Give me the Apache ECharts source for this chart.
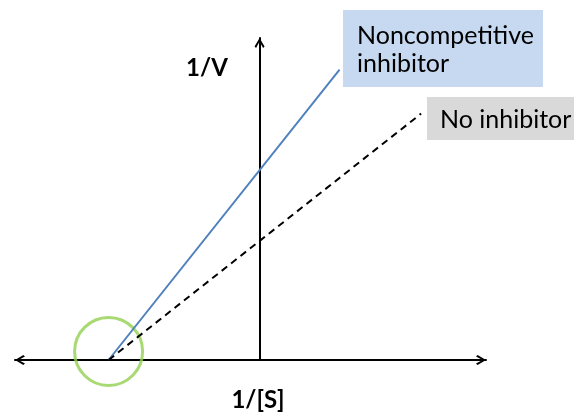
<!DOCTYPE html>
<html>
<head>
<meta charset="utf-8">
<script src="https://cdn.jsdelivr.net/npm/echarts@6/dist/echarts.min.js"></script>
<style>
  html, body { margin: 0; padding: 0; background: #ffffff; }
  #chart { width: 574px; height: 414px; }
</style>
</head>
<body>
<div id="chart"></div>
<script>
// Lineweaver–Burk plot: 1/V against 1/[S], both lines meet at -1/Km
const xRange = [-1.62, 1.5];          // 1/[S] extent of the horizontal axis
const yRange = [0, 2.64];             // 1/V extent of the vertical axis
const noncompetitiveLine = [[-1, 0], [0.53, 2.38]];
const noInhibitorLine = [[-1, 0], [1.07, 2.02]];
const kmIntercept = [[-1, 0.07]];     // shared x-intercept, ringed
const axisTitles = ['1/[S]', '1/V'];
const seriesNames = ['Noncompetitive\ninhibitor', 'No inhibitor'];

const FONT = 'Lato, "Open Sans", sans-serif';
// open chevron arrowhead pointing up (rotated by the axis)
const chevron = 'path://M5,0 L10,8.4 L8.5,10 L5,3.4 L1.5,10 L0,8.4 Z';

const chart = echarts.init(document.getElementById('chart'), null, { renderer: 'canvas' });

chart.setOption({
  backgroundColor: '#ffffff',
  animation: false,
  grid: { left: 15, right: 88, top: 38, bottom: 54 },
  xAxis: {
    type: 'value', min: xRange[0], max: xRange[1],
    axisLine: {
      show: true, onZero: true,
      symbol: [chevron, chevron], symbolSize: [13, 10], symbolOffset: [5, -5],
      lineStyle: { color: '#000000', width: 2 }
    },
    axisTick: { show: false }, axisLabel: { show: false }, splitLine: { show: false }
  },
  yAxis: {
    type: 'value', min: yRange[0], max: yRange[1],
    axisLine: {
      show: true, onZero: true,
      symbol: ['none', chevron], symbolSize: [13, 10], symbolOffset: [0, -5],
      lineStyle: { color: '#000000', width: 2 }
    },
    axisTick: { show: false }, axisLabel: { show: false }, splitLine: { show: false }
  },
  series: [
    {
      name: seriesNames[0], type: 'line', data: noncompetitiveLine,
      showSymbol: false, clip: false,
      lineStyle: { color: '#4f81bd', width: 2 }, z: 3
    },
    {
      name: seriesNames[1], type: 'line', data: noInhibitorLine,
      showSymbol: false, clip: false,
      lineStyle: { color: '#000000', width: 2, type: [7, 5] }, z: 3
    },
    {
      type: 'scatter', data: kmIntercept, clip: false,
      symbol: 'circle', symbolSize: 68,
      itemStyle: { color: 'rgba(0,0,0,0)', borderColor: '#92d050', borderWidth: 3 },
      z: 2
    }
  ],
  graphic: [
    {
      type: 'text', x: 207, y: 68,
      style: { text: axisTitles[1], font: 'bold 24px ' + FONT, fill: '#000', align: 'center', verticalAlign: 'middle' }
    },
    {
      type: 'text', x: 258, y: 400,
      style: { text: axisTitles[0], font: 'bold 24px ' + FONT, fill: '#000', align: 'center', verticalAlign: 'middle' }
    },
    {
      type: 'rect', shape: { x: 343, y: 10, width: 200, height: 77 },
      style: { fill: '#c6d9f1' }, z: 1
    },
    {
      type: 'text', x: 357, y: 50, z: 2,
      style: { text: seriesNames[0], font: '25px ' + FONT, fill: '#000', align: 'left', verticalAlign: 'middle', lineHeight: 28 }
    },
    {
      type: 'rect', shape: { x: 427, y: 97, width: 147, height: 43 },
      style: { fill: '#d9d9d9' }, z: 1
    },
    {
      type: 'text', x: 440, y: 120, z: 2,
      style: { text: seriesNames[1], font: '25px ' + FONT, fill: '#000', align: 'left', verticalAlign: 'middle' }
    }
  ]
});
</script>
</body>
</html>
